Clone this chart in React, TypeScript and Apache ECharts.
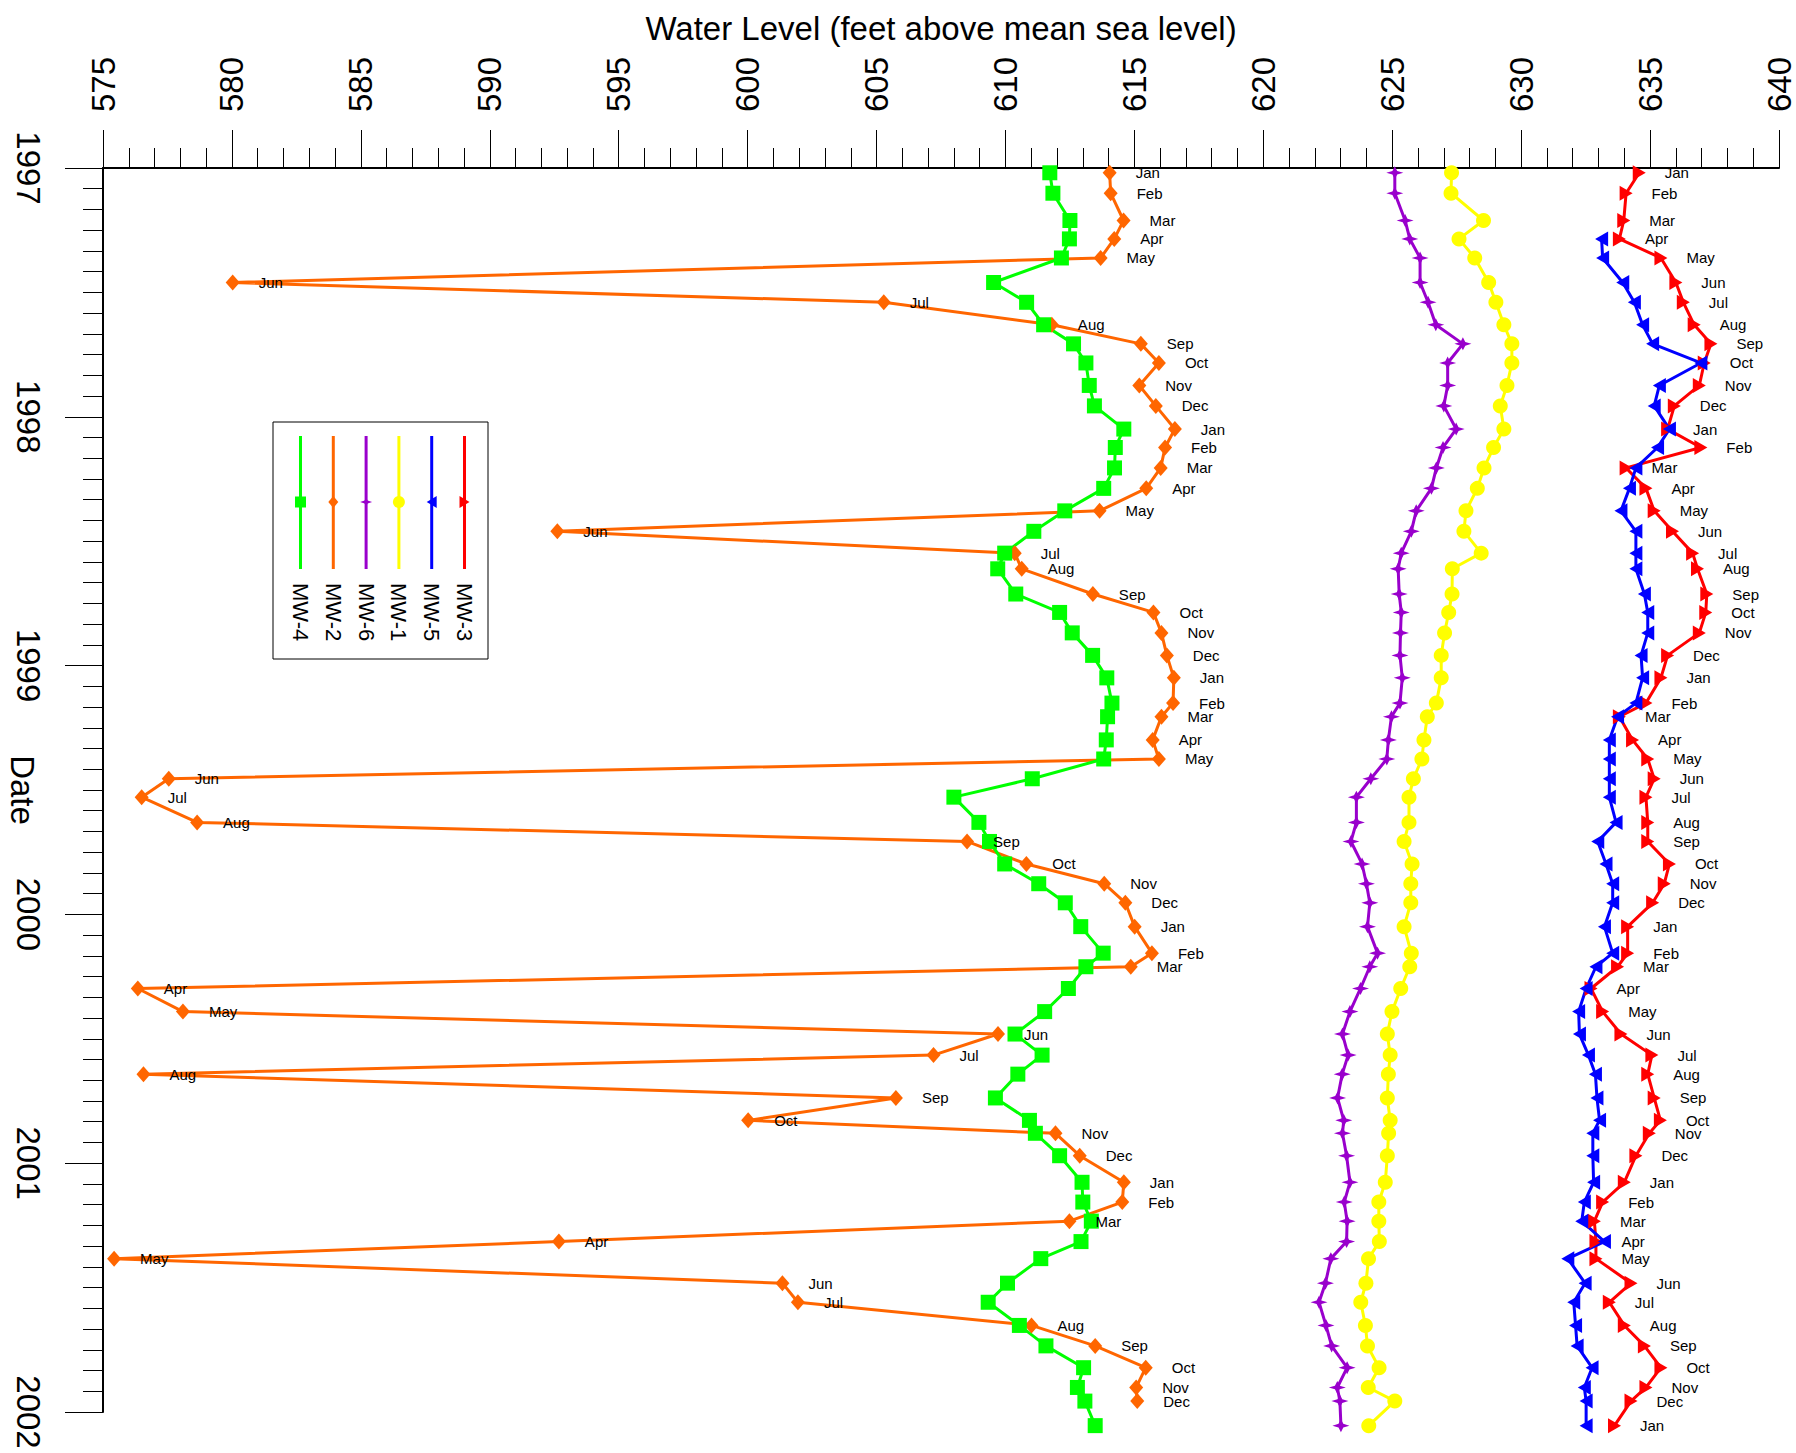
import React, { useEffect, useRef } from "react";
import * as echarts from "echarts";

// Sampling events
const sampleDates = [
  "1997-01-08", "1997-02-07", "1997-03-19", "1997-04-15", "1997-05-13", "1997-06-18",
  "1997-07-17", "1997-08-19", "1997-09-16", "1997-10-14", "1997-11-16", "1997-12-16",
  "1998-01-19", "1998-02-15", "1998-03-17", "1998-04-16", "1998-05-19", "1998-06-18",
  "1998-07-20", "1998-08-12", "1998-09-18", "1998-10-15", "1998-11-14", "1998-12-17",
  "1999-01-19", "1999-02-25", "1999-03-17", "1999-04-20", "1999-05-18", "1999-06-16",
  "1999-07-13", "1999-08-19", "1999-09-16", "1999-10-19", "1999-11-17", "1999-12-15",
  "2000-01-19", "2000-02-27", "2000-03-18", "2000-04-19", "2000-05-23", "2000-06-25",
  "2000-07-26", "2000-08-23", "2000-09-27", "2000-10-30", "2000-11-18", "2000-12-21",
  "2001-01-29", "2001-02-27", "2001-03-27", "2001-04-26", "2001-05-21", "2001-06-26",
  "2001-07-24", "2001-08-27", "2001-09-26", "2001-10-28", "2001-11-26", "2001-12-16",
  "2002-01-21",
];

const monthNames = ["Jan", "Feb", "Mar", "Apr", "May", "Jun", "Jul", "Aug", "Sep", "Oct", "Nov", "Dec"];

const mw4 = [
  611.72, 611.84, 612.5, 612.48, 612.17, 609.54, 610.82, 611.48, 612.64, 613.12, 613.25, 613.45,
  614.59, 614.26, 614.23, 613.81, 612.3, 611.1, 609.97, 609.7, 610.4, 612.1, 612.59, 613.38,
  613.93, 614.13, 613.96, 613.91, 613.81, 611.04, 608.0, 608.97, 609.38, 609.97, 611.29, 612.32,
  612.92, 613.79, 613.12, 612.44, 611.52, 610.37, 611.42, 610.48, 609.61, 610.93, 611.16, 612.1,
  612.97, 613.0, 613.33, 612.93, 611.37, 610.08, 609.33, 610.54, 611.57, 613.03, 612.79, 613.08,
  613.48,
];

const mw2 = [
  614.04, 614.08, 614.58, 614.22, 613.69, 580.03, 605.28, 611.8, 615.25, 615.95, 615.19, 615.83,
  616.57, 616.19, 616.02, 615.46, 613.65, 592.62, 610.36, 610.63, 613.39, 615.74, 616.05, 616.26,
  616.53, 616.5, 616.05, 615.71, 615.95, 577.55, 576.5, 578.65, 608.51, 610.81, 613.83, 614.65,
  615.01, 615.68, 614.86, 576.35, 578.1, 609.71, 607.21, 576.57, 605.75, 600.02, 611.94, 612.88,
  614.59, 614.53, 612.48, 592.68, 575.43, 601.35, 601.95, 611.01, 613.48, 615.44, 615.07, 615.11,
];

const mw6 = [
  625.1, 625.1, 625.5, 625.68, 626.08, 626.08, 626.39, 626.69, 627.74, 627.15, 627.15, 627.0,
  627.48, 626.97, 626.71, 626.52, 625.93, 625.74, 625.35, 625.23, 625.27, 625.35, 625.32, 625.3,
  625.39, 625.3, 624.97, 624.85, 624.79, 624.17, 623.61, 623.61, 623.4, 623.83, 624.0, 624.13,
  624.04, 624.43, 624.13, 623.77, 623.36, 623.07, 623.29, 623.06, 622.88, 623.12, 623.07, 623.23,
  623.36, 623.14, 623.25, 623.23, 622.62, 622.41, 622.16, 622.43, 622.65, 623.25, 622.87, 622.97,
  623.01,
];

const mw1 = [
  627.3, 627.28, 628.54, 627.59, 628.2, 628.74, 629.02, 629.33, 629.64, 629.64, 629.45, 629.19,
  629.33, 628.93, 628.56, 628.3, 627.86, 627.78, 628.45, 627.33, 627.32, 627.19, 627.03, 626.9,
  626.9, 626.71, 626.36, 626.23, 626.15, 625.82, 625.65, 625.65, 625.46, 625.77, 625.72, 625.72,
  625.46, 625.74, 625.68, 625.33, 624.99, 624.81, 624.92, 624.85, 624.81, 624.92, 624.86, 624.81,
  624.73, 624.48, 624.48, 624.5, 624.08, 623.98, 623.78, 623.96, 624.04, 624.49, 624.07, 625.1,
  624.09,
];

const mw5 = [
  null, null, null, 633.12, 633.16, 633.94, 634.39, 634.71, 635.1, 636.97, 635.36, 635.16,
  635.75, 635.29, 634.45, 634.2, 633.87, 634.45, 634.45, 634.45, 634.78, 634.91, 634.91, 634.65,
  634.71, 634.45, 633.74, 633.42, 633.42, 633.42, 633.42, 633.68, 632.97, 633.29, 633.55, 633.55,
  633.23, 633.55, 632.9, 632.52, 632.23, 632.26, 632.61, 632.88, 632.94, 633.04, 632.78, 632.78,
  632.81, 632.45, 632.35, 633.23, 631.81, 632.48, 632.04, 632.11, 632.17, 632.75, 632.45, 632.52,
  632.52,
];

const mw3 = [
  634.58, 634.07, 633.98, 633.81, 635.42, 636.0, 636.29, 636.71, 637.36, 637.1, 636.91, 635.94,
  635.68, 636.97, 634.07, 634.84, 635.16, 635.87, 636.65, 636.84, 637.2, 637.16, 636.91, 635.68,
  635.42, 634.84, 633.81, 634.32, 634.91, 635.16, 634.84, 634.91, 634.91, 635.75, 635.55, 635.1,
  634.13, 634.13, 633.74, 632.71, 633.16, 633.87, 635.07, 634.91, 635.16, 635.4, 634.97, 634.45,
  634.0, 633.16, 632.84, 632.9, 632.9, 634.26, 633.42, 634.0, 634.78, 635.42, 634.84, 634.26,
  633.62,
];

const wellNames = ["MW-4", "MW-2", "MW-6", "MW-1", "MW-5", "MW-3"];

const FONT = "'Liberation Sans', Arial, Helvetica, sans-serif";

function toYear(s: string): number {
  const [y, m, d] = s.split("-").map(Number);
  const start = Date.UTC(y, 0, 1);
  const end = Date.UTC(y + 1, 0, 1);
  return y + (Date.UTC(y, m - 1, d) - start) / (end - start);
}

function buildData(values: (number | null)[]) {
  const out: any[] = [];
  values.forEach((v, i) => {
    if (v == null) return;
    const ds = sampleDates[i];
    const month = Number(ds.split("-")[1]);
    out.push({ value: [v, toYear(ds)], name: monthNames[month - 1] });
  });
  return out;
}

const SYM_STAR = "path://M0,5 L3.6,3.6 L5,0 L6.4,3.6 L10,5 L6.4,6.4 L5,10 L3.6,6.4 Z";
const SYM_LEFT = "path://M0,5 L10,0 L10,10 Z";
const SYM_RIGHT = "path://M0,0 L10,5 L0,10 Z";

const styles: Record<string, { color: string; symbol: string; size: any; labels: boolean }> = {
  "MW-4": { color: "#00ff00", symbol: "rect", size: 15, labels: false },
  "MW-2": { color: "#ff6600", symbol: "diamond", size: [14, 16], labels: true },
  "MW-6": { color: "#9900cc", symbol: SYM_STAR, size: [17, 13], labels: false },
  "MW-1": { color: "#ffff00", symbol: "circle", size: 15, labels: false },
  "MW-5": { color: "#0000ff", symbol: SYM_LEFT, size: [13, 15], labels: false },
  "MW-3": { color: "#ff0000", symbol: SYM_RIGHT, size: [13, 15], labels: true },
};

const seriesValues: Record<string, (number | null)[]> = {
  "MW-4": mw4,
  "MW-2": mw2,
  "MW-6": mw6,
  "MW-1": mw1,
  "MW-5": mw5,
  "MW-3": mw3,
};

function legendGraphic() {
  const els: any[] = [
    {
      type: "rect",
      shape: { x: 273, y: 422, width: 215, height: 237 },
      style: { fill: "#fff", stroke: "#000", lineWidth: 1 },
      z: 100,
    },
  ];
  wellNames.forEach((name, i) => {
    const st = styles[name];
    const x = 300.5 + i * 32.8;
    const my = 502;
    els.push({
      type: "line",
      shape: { x1: x, y1: 436, x2: x, y2: 569 },
      style: { stroke: st.color, lineWidth: 3 },
      z: 101,
    });
    let marker: any;
    if (name === "MW-4") {
      marker = { type: "rect", shape: { x: x - 5.5, y: my - 5.5, width: 11, height: 11 } };
    } else if (name === "MW-2") {
      marker = { type: "polygon", shape: { points: [[x, my - 6], [x + 5, my], [x, my + 6], [x - 5, my]] } };
    } else if (name === "MW-6") {
      marker = {
        type: "polygon",
        shape: {
          points: [
            [x - 6, my], [x - 1.5, my - 1.5], [x, my - 4.5], [x + 1.5, my - 1.5],
            [x + 6, my], [x + 1.5, my + 1.5], [x, my + 4.5], [x - 1.5, my + 1.5],
          ],
        },
      };
    } else if (name === "MW-1") {
      marker = { type: "circle", shape: { cx: x, cy: my, r: 6 } };
    } else if (name === "MW-5") {
      marker = { type: "polygon", shape: { points: [[x - 5, my], [x + 5, my - 6], [x + 5, my + 6]] } };
    } else {
      marker = { type: "polygon", shape: { points: [[x + 5, my], [x - 5, my - 6], [x - 5, my + 6]] } };
    }
    marker.style = { fill: st.color };
    marker.z = 102;
    els.push(marker);
    els.push({
      type: "text",
      x: x,
      y: 583,
      rotation: -Math.PI / 2,
      z: 102,
      style: {
        text: name,
        fontSize: 22,
        fontFamily: FONT,
        fill: "#000",
        align: "left",
        verticalAlign: "middle",
        textAlign: "left",
        textVerticalAlign: "middle",
      },
    });
  });
  return els;
}

export default function App() {
  const ref = useRef<HTMLDivElement>(null);

  useEffect(() => {
    document.body.style.margin = "0";
    if (!ref.current) return;
    const chart = echarts.init(ref.current, undefined, { renderer: "svg" });

    const drawOrder = ["MW-3", "MW-5", "MW-1", "MW-6", "MW-2", "MW-4"];
    const series = drawOrder.map((name) => {
      const st = styles[name];
      return {
        name,
        type: "line",
        data: buildData(seriesValues[name]),
        symbol: st.symbol,
        symbolSize: st.size,
        showSymbol: true,
        showAllSymbol: true,
        clip: false,
        lineStyle: { color: st.color, width: 3 },
        itemStyle: { color: st.color },
        emphasis: { disabled: true },
        label: st.labels
          ? {
              show: true,
              position: "right",
              distance: 19,
              formatter: "{b}",
              fontSize: 15,
              fontFamily: FONT,
              color: "#000",
            }
          : { show: false },
      };
    });

    chart.setOption({
      animation: false,
      backgroundColor: "#fff",
      textStyle: { fontFamily: FONT },
      grid: { left: 103, right: 17, top: 168, bottom: 41, containLabel: false, outerBoundsMode: "none" },
      xAxis: {
        type: "value",
        position: "top",
        min: 575,
        max: 640,
        interval: 5,
        name: "Water Level (feet above mean sea level)",
        nameLocation: "middle",
        nameGap: 123,
        nameMoveOverlap: false,
        nameTextStyle: { fontSize: 33, color: "#000", fontFamily: FONT },
        axisLine: { show: true, lineStyle: { color: "#000", width: 2 } },
        axisTick: { show: true, length: 38, lineStyle: { color: "#000", width: 1 } },
        minorTick: { show: true, splitNumber: 5, length: 20, lineStyle: { color: "#000", width: 1 } },
        axisLabel: {
          rotate: -90,
          fontSize: 33,
          lineHeight: 20,
          color: "#000",
          margin: 56,
          fontFamily: FONT,
          formatter: (v: number) => String(v),
        },
        splitLine: { show: false },
        minorSplitLine: { show: false },
      },
      yAxis: {
        type: "value",
        inverse: true,
        position: "left",
        min: 1997,
        max: 2002,
        interval: 1,
        name: "Date",
        nameLocation: "middle",
        nameRotate: -90,
        nameGap: 66,
        nameMoveOverlap: false,
        nameTextStyle: { fontSize: 33, lineHeight: 30, color: "#000", fontFamily: FONT },
        axisLine: { show: true, lineStyle: { color: "#000", width: 2 } },
        axisTick: { show: true, length: 38, lineStyle: { color: "#000", width: 1 } },
        minorTick: { show: true, splitNumber: 12, length: 20, lineStyle: { color: "#000", width: 1 } },
        axisLabel: {
          rotate: -90,
          fontSize: 33,
          color: "#000",
          margin: 58,
          fontFamily: FONT,
          formatter: (v: number) => String(v),
        },
        splitLine: { show: false },
        minorSplitLine: { show: false },
      },
      series,
      graphic: legendGraphic(),
    });

    return () => {
      chart.dispose();
    };
  }, []);

  return <div ref={ref} style={{ width: 1796, height: 1453 }} />;
}
